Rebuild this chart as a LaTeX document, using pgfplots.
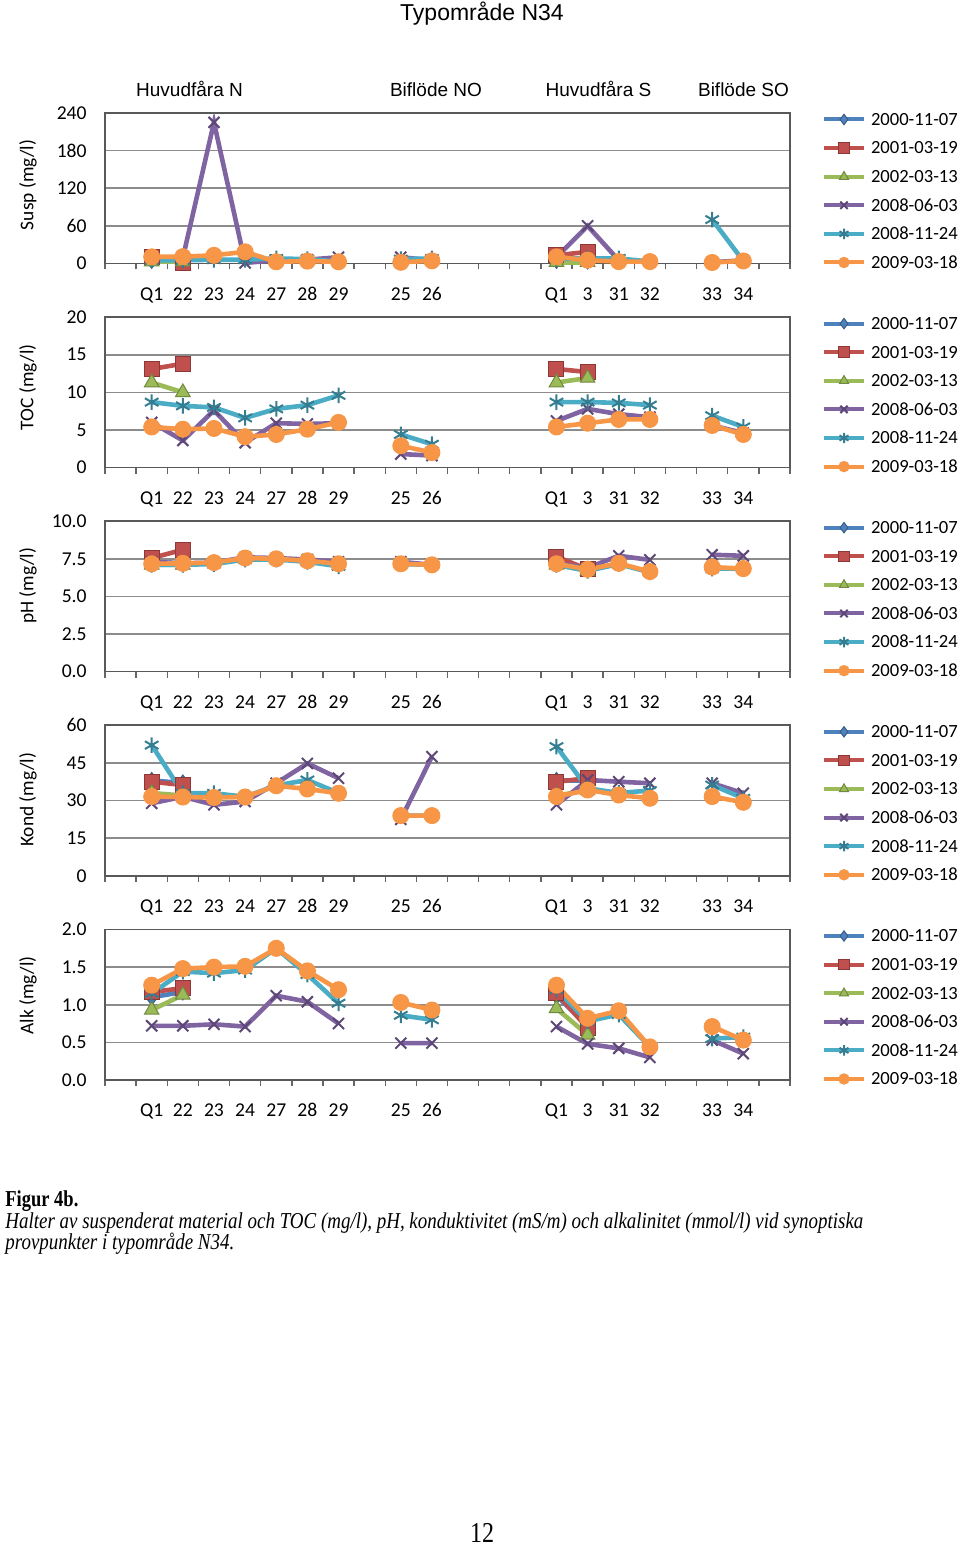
\documentclass[border=0pt]{standalone}
\usepackage{fontspec}
\setmainfont{Liberation Serif}
\newfontfamily\carlito{Carlito}
\newfontfamily\arial{Liberation Sans}
\usepackage{graphicx}
\usepackage{pgfplots}
\usepackage{pgfplotstable}
\pgfplotsset{compat=1.18}

% Excel 2007 series colours
\definecolor{cA}{HTML}{4F81BD}\definecolor{cAd}{HTML}{385D8A}
\definecolor{cB}{HTML}{C0504D}\definecolor{cBd}{HTML}{8C3836}
\definecolor{cC}{HTML}{9BBB59}\definecolor{cCd}{HTML}{71893F}
\definecolor{cD}{HTML}{8064A2}\definecolor{cDd}{HTML}{5C4776}
\definecolor{cE}{HTML}{4BACC6}\definecolor{cEd}{HTML}{357D91}
\definecolor{cF}{HTML}{F79646}

% x: 0..21 category slots (Q1,22,...,34 with empty slots between groups)
\pgfplotstableread{
x A B C D E F
1 5 10 3 10 5 10.6
2 4 0 3 9 5 10.9
3 nan nan nan 225 6 13
4 nan nan nan 1 6 18.6
5 nan nan nan 5 8 2.7
6 nan nan nan 6 7 3.7
7 nan nan nan 10 3 2.7
8 nan nan nan nan nan nan
9 nan nan nan 10 7 1.9
10 nan nan nan 5 8 4.3
12 nan nan nan nan nan nan
14 5 13 2 10 8 10.6
15 4 18.6 2 60 8 5.3
16 nan nan nan 5 8 3
17 nan nan nan 3 3 3
18 nan nan nan nan nan nan
19 nan nan nan 2 70 1.6
20 nan nan nan 5 4 4
}\susp

\pgfplotstableread{
x B C D E F
1 13.1 11.3 6.0 8.7 5.4
2 13.8 10.0 3.6 8.2 5.1
3 nan nan 7.6 8.0 5.2
4 nan nan 3.3 6.6 4.1
5 nan nan 5.9 7.8 4.4
6 nan nan 5.8 8.3 5.1
7 nan nan 5.9 9.6 6.0
8 nan nan nan nan nan
9 nan nan 1.8 4.4 2.9
10 nan nan 1.6 3.1 2.0
12 nan nan nan nan nan
14 13.1 11.3 6.2 8.7 5.4
15 12.7 11.9 7.8 8.7 5.9
16 nan nan 7.1 8.6 6.4
17 nan nan 6.7 8.3 6.4
18 nan nan nan nan nan
19 nan nan 5.6 6.9 5.6
20 nan nan 4.6 5.4 4.4
}\toc

\pgfplotstableread{
x A B C D E F
1 7.3 7.55 7.1 7.3 7.1 7.17
2 7.2 8.1 7.1 7.2 7.1 7.2
3 nan nan nan 7.25 7.15 7.25
4 nan nan nan 7.6 7.45 7.55
5 nan nan nan 7.55 7.45 7.5
6 nan nan nan 7.45 7.3 7.37
7 nan nan nan 7.3 7.0 7.17
8 nan nan nan nan nan nan
9 nan nan nan 7.3 7.15 7.17
10 nan nan nan 7.1 7.1 7.1
12 nan nan nan nan nan nan
14 7.3 7.65 7.1 7.2 7.1 7.17
15 6.8 6.8 6.7 6.9 6.7 6.8
16 nan nan nan 7.7 7.15 7.2
17 nan nan nan 7.43 6.6 6.65
18 nan nan nan nan nan nan
19 nan nan nan 7.77 6.85 6.95
20 nan nan nan 7.7 6.85 6.85
}\ph

\pgfplotstableread{
x A B C D E F
1 38 37.5 33 28.9 52.1 31.6
2 37 36.2 32 31.5 32.9 31.4
3 nan nan nan 28.3 32.9 31.2
4 nan nan nan 29.6 31.5 31.4
5 nan nan nan 36.9 36.0 35.9
6 nan nan nan 44.8 38.2 34.6
7 nan nan nan 38.9 33.0 32.9
8 nan nan nan nan nan nan
9 nan nan nan 22.5 24.0 24.0
10 nan nan nan 47.5 24.0 24.0
12 nan nan nan nan nan nan
14 38 37.5 32 28.3 51.5 31.6
15 38 38.9 34 38.2 34.9 34.2
16 nan nan nan 37.5 33.0 32.2
17 nan nan nan 36.9 34.0 30.9
18 nan nan nan nan nan nan
19 nan nan nan 36.9 36.2 31.6
20 nan nan nan 32.9 30.9 29.3
}\kond

\pgfplotstableread{
x A B C D E F
1 1.10 1.17 0.93 0.72 1.15 1.26
2 1.17 1.22 1.13 0.72 1.44 1.48
3 nan nan nan 0.74 1.42 1.50
4 nan nan nan 0.71 1.46 1.51
5 nan nan nan 1.12 1.75 1.75
6 nan nan nan 1.04 1.40 1.45
7 nan nan nan 0.75 1.02 1.20
8 nan nan nan nan nan nan
9 nan nan nan 0.49 0.86 1.03
10 nan nan nan 0.49 0.80 0.93
12 nan nan nan nan nan nan
14 1.12 1.15 0.95 0.71 1.20 1.26
15 0.72 0.69 0.60 0.48 0.78 0.82
16 nan nan nan 0.42 0.87 0.92
17 nan nan nan 0.30 0.44 0.44
18 nan nan nan nan nan nan
19 nan nan nan 0.53 0.55 0.71
20 nan nan nan 0.35 0.57 0.53
}\alk

\pgfplotsset{
  sA/.style={color=cA, line width=2.3pt, mark=diamond*, mark size=4pt,
    mark options={solid, fill=cA, draw=cAd, line width=0.5pt}},
  sB/.style={color=cB, line width=2.3pt, mark=square*, mark size=3.75pt,
    mark options={solid, fill=cB, draw=cBd, line width=0.5pt}},
  sC/.style={color=cC, line width=2.3pt, mark=triangle*, mark size=4.2pt,
    mark options={solid, fill=cC, draw=cCd, line width=0.5pt}},
  sD/.style={color=cD, line width=2.3pt, mark=x, mark size=3.9pt,
    mark options={solid, draw=cDd, line width=1pt}},
  sE/.style={color=cE, line width=2.3pt, mark=asterisk, mark size=3.9pt,
    mark options={solid, draw=cEd, line width=1pt}},
  sF/.style={color=cF, line width=2.3pt, mark=*, mark size=4pt,
    mark options={solid, fill=cF, draw=cF, line width=0.5pt}},
  panel/.style={
    at={(52.5pt,#1)}, anchor=south west,
    width=342.5pt, height=75.25pt, scale only axis,
    xmin=-0.5, xmax=21.5,
    xtick={1,2,3,4,5,6,7,9,10,14,15,16,17,19,20},
    xticklabels={Q1,22,23,24,27,28,29,25,26,Q1,3,31,32,33,34},
    minor xtick={-0.5,0.5,...,21.5},
    xtick pos=left, ytick pos=left,
    major tick length=0pt, minor tick length=3pt, tick align=outside,
    tick style={black!60, line width=0.7pt},
    ymajorgrids, grid style={black!45, line width=0.8pt},
    axis line style={black!65, line width=0.8pt},
    ticklabel style={font=\carlito\fontsize{9.8}{11}\selectfont, text=black},
    xticklabel style={anchor=north, inner sep=0pt, yshift=-12pt,
      text height=6.3pt, text depth=0pt},
    yticklabel style={anchor=east, inner sep=0pt, xshift=-9pt},
    unbounded coords=jump, clip=false,
    legend cell align=left,
    legend style={draw=none, fill=none, at={(1,1)}, anchor=north west,
      xshift=16pt, yshift=-0.3pt, inner sep=0pt, outer sep=0pt,
      row sep=8.4pt, /tikz/column sep=2.5pt,
      nodes={inner sep=0pt, text height=5.9pt, text depth=0pt,
        font=\carlito\fontsize{9.3}{11}\selectfont}},
    legend image code/.code={\draw[mark repeat=2, mark phase=2, ##1,
      mark size=2.6pt, line width=2pt]
      plot coordinates {(0pt,0pt) (10pt,0pt) (20pt,0pt)};},
    every axis y label/.style={rotate=90, anchor=center,
      font=\carlito\fontsize{9.7}{11}\selectfont},
  },
}

\newcommand\sixplots[1]{%
  \addplot[sA] table[x=x, y=A]{#1}; \addlegendentry{2000-11-07}
  \addplot[sB] table[x=x, y=B]{#1}; \addlegendentry{2001-03-19}
  \addplot[sC] table[x=x, y=C]{#1}; \addlegendentry{2002-03-13}
  \addplot[sD] table[x=x, y=D]{#1}; \addlegendentry{2008-06-03}
  \addplot[sE] table[x=x, y=E]{#1}; \addlegendentry{2008-11-24}
  \addplot[sF] table[x=x, y=F]{#1}; \addlegendentry{2009-03-18}
}

\begin{document}
\begin{tikzpicture}
\useasboundingbox (0,0) rectangle (480pt,773.5pt);

\node[anchor=base, inner sep=0pt] at (241pt,763.25pt)
  {\arial\fontsize{11.5}{13}\selectfont Typområde N34};

\begin{scope}[every node/.style={anchor=base, inner sep=0pt,
    font=\arial\fontsize{9.5}{11}\selectfont}]
  \node at (94.75pt,725.1pt) {Huvudfåra N};
  \node at (218pt,725.1pt) {Biflöde NO};
  \node at (299.25pt,725.1pt) {Huvudfåra S};
  \node at (371.75pt,725.1pt) {Biflöde SO};
\end{scope}

\begin{axis}[panel=641.75pt, ymin=0, ymax=240, ytick={0,60,...,240},
  yticklabels={0,60,120,180,240},
  ylabel={Susp (mg/l)},
  ylabel style={at={(axis description cs:-0.1124,0.522)}}]
\sixplots{\susp}
\end{axis}

\begin{axis}[panel=539.7pt, ymin=0, ymax=20, ytick={0,5,...,20},
  yticklabels={0,5,10,15,20},
  ylabel={TOC (mg/l)},
  ylabel style={at={(axis description cs:-0.1124,0.533)}}]
\addlegendimage{sA}\addlegendentry{2000-11-07}
\addplot[sB] table[x=x, y=B]{\toc}; \addlegendentry{2001-03-19}
\addplot[sC] table[x=x, y=C]{\toc}; \addlegendentry{2002-03-13}
\addplot[sD] table[x=x, y=D]{\toc}; \addlegendentry{2008-06-03}
\addplot[sE] table[x=x, y=E]{\toc}; \addlegendentry{2008-11-24}
\addplot[sF] table[x=x, y=F]{\toc}; \addlegendentry{2009-03-18}
\end{axis}

\begin{axis}[panel=437.65pt, ymin=0, ymax=10, ytick={0,2.5,5,7.5,10},
  yticklabels={0.0,2.5,5.0,7.5,10.0},
  ylabel={pH (mg/l)},
  ylabel style={at={(axis description cs:-0.1124,0.570)}}]
\sixplots{\ph}
\end{axis}

\begin{axis}[panel=335.6pt, ymin=0, ymax=60, ytick={0,15,...,60},
  yticklabels={0,15,30,45,60},
  ylabel={Kond (mg/l)},
  ylabel style={at={(axis description cs:-0.1124,0.504)}}]
\sixplots{\kond}
\end{axis}

\begin{axis}[panel=233.5pt, ymin=0, ymax=2, ytick={0,0.5,1,1.5,2},
  yticklabels={0.0,0.5,1.0,1.5,2.0},
  ylabel={Alk (mg/l)},
  ylabel style={at={(axis description cs:-0.1124,0.562)}}]
\sixplots{\alk}
\end{axis}

\node[anchor=base west, inner sep=0pt] at (2.5pt,170.15pt)
  {\scalebox{1}[1.23]{\fontsize{9.25}{11}\selectfont\bfseries Figur 4b.}};
\node[anchor=base west, inner sep=0pt] at (2.5pt,159.35pt)
  {\scalebox{1}[1.2]{\fontsize{9.48}{11}\selectfont\itshape Halter av suspenderat material och TOC (mg/l), pH, konduktivitet (mS/m) och alkalinitet (mmol/l) vid synoptiska}};
\node[anchor=base west, inner sep=0pt] at (2.5pt,148.5pt)
  {\scalebox{1}[1.2]{\fontsize{9.48}{11}\selectfont\itshape provpunkter i typområde N34.}};

\node[anchor=base, inner sep=0pt] at (241pt,2pt)
  {\scalebox{1}[1.2]{\fontsize{12}{14}\selectfont 12}};
\end{tikzpicture}
\end{document}
